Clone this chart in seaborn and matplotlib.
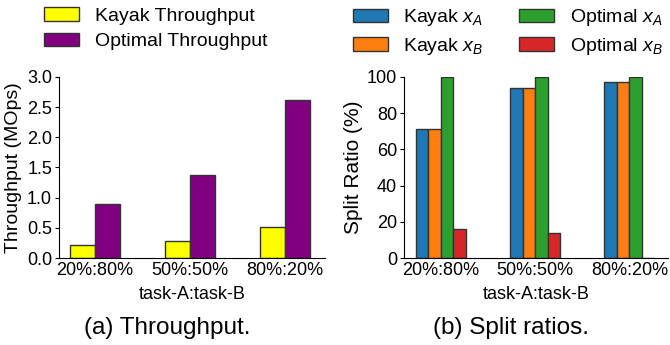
import numpy as np
import pandas as pd
import seaborn as sns
import matplotlib.pyplot as plt

ratios = ["20%:80%", "50%:50%", "80%:20%"]

kayak_tput = [0.22, 0.28, 0.51]
optimal_tput = [0.89, 1.38, 2.61]

kayak_xa = [71, 94, 97]
kayak_xb = [71, 94, 97]
optimal_xa = [100, 100, 100]
optimal_xb = [16, 14, 0]

sns.set_style("ticks")
plt.rcParams['font.family'] = ['Liberation Sans', 'DejaVu Sans']
plt.rcParams['mathtext.fontset'] = 'custom'
plt.rcParams['mathtext.it'] = 'Liberation Sans:italic'
plt.rcParams['mathtext.rm'] = 'Liberation Sans'
for key in ['text.color', 'axes.labelcolor', 'xtick.color', 'ytick.color', 'axes.edgecolor']:
    plt.rcParams[key] = 'black'

tput = pd.DataFrame({
    "ratio": ratios * 2,
    "value": kayak_tput + optimal_tput,
    "series": ["Kayak Throughput"] * 3 + ["Optimal Throughput"] * 3,
})
split = pd.DataFrame({
    "ratio": ratios * 4,
    "value": kayak_xa + kayak_xb + optimal_xa + optimal_xb,
    "series": (["Kayak $x_A$"] * 3 + ["Kayak $x_B$"] * 3
               + ["Optimal $x_A$"] * 3 + ["Optimal $x_B$"] * 3),
})

fig = plt.figure(figsize=(6.7, 3.45), dpi=100)
ax1 = fig.add_axes([0.088, 0.252, 0.397, 0.525])
ax2 = fig.add_axes([0.603, 0.252, 0.394, 0.525])

sns.barplot(data=tput, x="ratio", y="value", hue="series", ax=ax1,
            palette=["#ffff00", "#800080"], width=0.53, saturation=1,
            edgecolor="#333333", linewidth=1, legend=True)
sns.barplot(data=split, x="ratio", y="value", hue="series", ax=ax2,
            palette=["#1f77b4", "#ff7f0e", "#2ca02c", "#d62728"], width=0.53,
            saturation=1, edgecolor="#333333", linewidth=1, legend=True)

ax1.set_ylim(0, 3.0)
ax1.set_yticks([0, 0.5, 1.0, 1.5, 2.0, 2.5, 3.0])
ax1.set_xlim(-0.38, 2.42)
ax1.set_ylabel("Throughput (MOps)", fontsize=14)
ax1.yaxis.set_label_coords(-0.14, 0.5)

ax2.set_ylim(0, 100)
ax2.set_yticks([0, 20, 40, 60, 80, 100])
ax2.set_xlim(-0.39, 2.41)
ax2.set_ylabel("Split Ratio (%)", fontsize=15)
ax2.yaxis.set_label_coords(-0.155, 0.5)

for ax in (ax1, ax2):
    sns.despine(ax=ax)
    ax.tick_params(axis="y", labelsize=13, length=3, pad=2)
    ax.tick_params(axis="x", labelsize=13, length=0, pad=3)
    ax.set_xlabel("task-A:task-B", fontsize=13)
    ax.xaxis.set_label_coords(0.5, -0.155)
    ax.get_legend().remove()

h1, l1 = ax1.get_legend_handles_labels()
fig.legend(h1, l1, loc="upper left", bbox_to_anchor=(0.04, 1.03), ncol=1,
           frameon=False, fontsize=14, handlelength=1.8, handleheight=0.7,
           handletextpad=0.8, labelspacing=0.4)
h2, l2 = ax2.get_legend_handles_labels()
fig.legend(h2, l2, loc="upper left", bbox_to_anchor=(0.5, 1.03), ncol=2,
           frameon=False, fontsize=14, handlelength=1.8, handleheight=0.7,
           handletextpad=0.8, labelspacing=0.4, columnspacing=1.85)

fig.text(0.25, 0.05, "(a) Throughput.", ha="center", va="center", fontsize=17.5)
fig.text(0.762, 0.05, "(b) Split ratios.", ha="center", va="center", fontsize=17.5)

fig.savefig("out.png", dpi=100)
